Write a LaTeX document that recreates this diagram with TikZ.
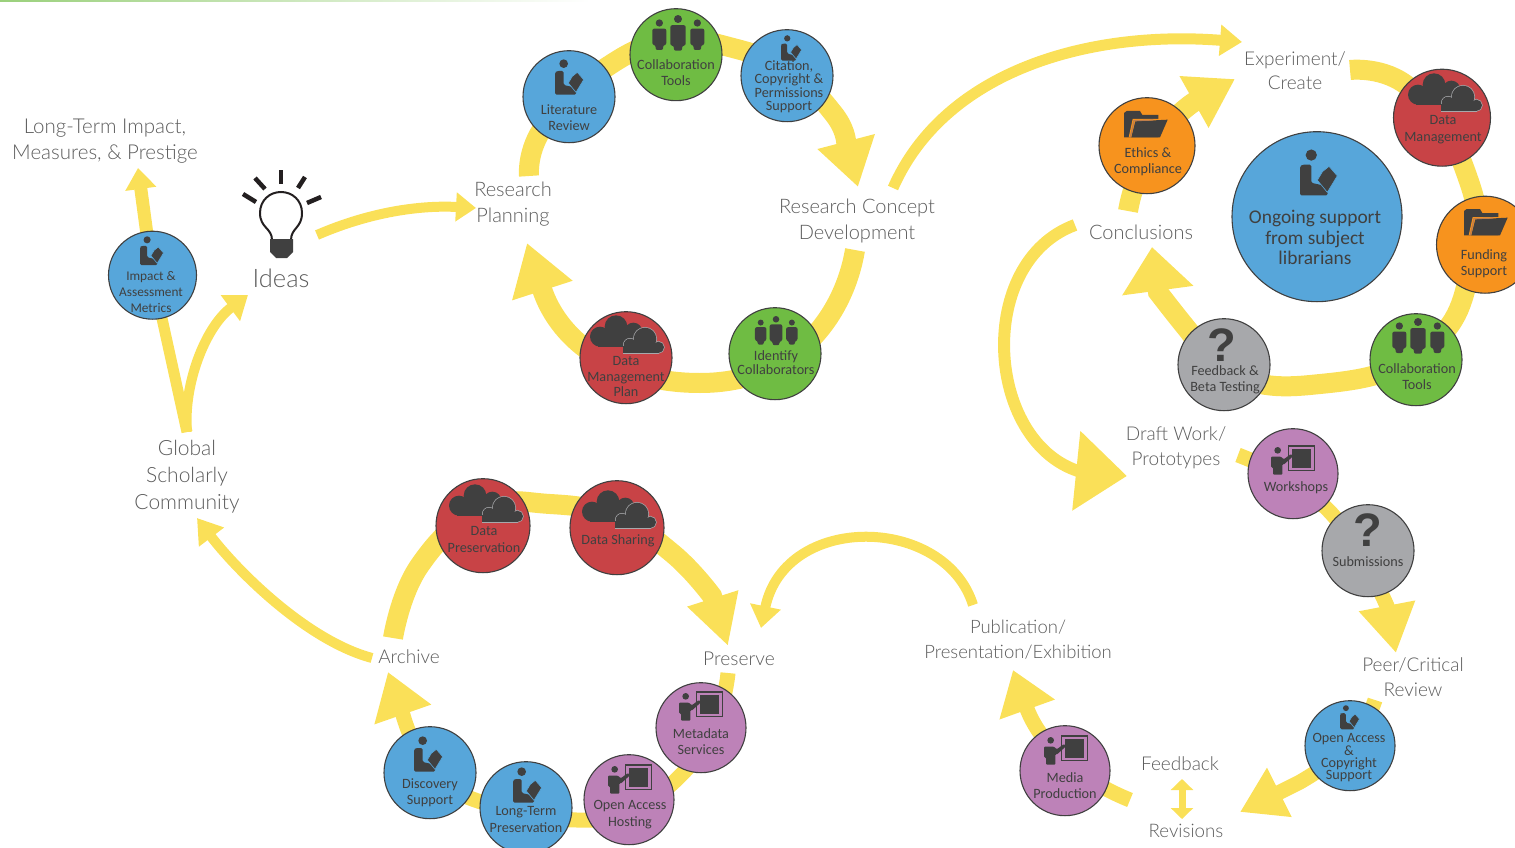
\documentclass[tikz,border=0pt]{standalone}
\usepackage{fontspec}
\setmainfont{Carlito}
\newfontfamily\lightfont{Lato Light}
\usetikzlibrary{arrows.meta}
\definecolor{yel}{HTML}{FAE058}
\definecolor{bl}{HTML}{57A6DA}
\definecolor{gr}{HTML}{6FBC43}
\definecolor{rd}{HTML}{C84346}
\definecolor{og}{HTML}{F7931E}
\definecolor{pu}{HTML}{BD82B8}
\definecolor{gy}{HTML}{A7A8AB}
\definecolor{ink}{HTML}{404040}
\definecolor{lab}{HTML}{5C5C5C}
\definecolor{bulbk}{HTML}{231F20}
\definecolor{tan}{HTML}{BE7D4B}
\pgfdeclarelayer{bg}
\pgfsetlayers{bg,main}
\newcommand{\lf}[2]{\lightfont\fontsize{#1}{#2}\selectfont}
\tikzset{
  bub/.style={circle,draw=ink,line width=1.1pt,minimum size=#1,inner sep=0pt,yshift=-.7pt},
  ctext/.style={text=ink,align=center,inner sep=0pt,yshift=-.6pt,font=\fontsize{14.2}{16.5}\selectfont},
  ltext/.style={text=lab,align=center,inner sep=0pt,font=\lf{20}{25.5}},
  plainband/.style={draw=yel,line width=#1},
  ytip/.style n args={3}{draw=yel,line width=#1,-{Triangle[length=#2,width=#3]}},
  sm/.style={smooth,tension=.8}
}
\newcommand{\reader}[3]{\begin{scope}[shift={(#1,#2)},scale=#3/3]
  \fill[ink] (26,14) circle (13);
  \fill[ink,rounded corners=1.5] (0,40) -- (6,36) -- (26,36) -- (26,78) -- (62,86) -- (64,107) -- (0,107) -- cycle;
  \fill[ink,draw=bl,line width=.6pt] (40,72) -- (52,52) -- (67,40) -- (86,62) -- (63,100) -- cycle;
\end{scope}}
\newcommand{\figureman}[4]{\fill[ink] (#1,#2) circle (#3*.26);
  \fill[ink,rounded corners=2] (#1-#3*.5,#2+#3*.4) -- (#1+#3*.5,#2+#3*.4) -- (#1+#3*.5,#4-15) -- (#1+#3*.27,#4-15) -- (#1+#3*.27,#4) -- (#1-#3*.27,#4) -- (#1-#3*.27,#4-15) -- (#1-#3*.5,#4-15) -- cycle;}
\newcommand{\people}[3]{\begin{scope}[shift={(#1,#2)},scale=#3/3]
  \figureman{0}{12}{46}{107}
  \figureman{-56}{24}{42}{105}
  \figureman{58}{24}{42}{105}
\end{scope}}
\newcommand{\folder}[3]{\begin{scope}[shift={(#1,#2)},scale=#3/3]
  \fill[ink] (0,6) -- (8,0) -- (48,0) -- (55,12) -- (103,12) -- (103,79) -- (0,79) -- cycle;
  \fill[og] (14,79) -- (26,24) -- (131,24) -- (108,79) -- cycle;
  \fill[ink] (22,79) -- (34,31) -- (131,26) -- (108,79) -- cycle;
  \draw[draw=tan,line width=1.2pt] (19,79) -- (30,29) -- (88,27);
\end{scope}}
\newcommand{\clouds}[3]{\begin{scope}[shift={(#1,#2)},scale=#3/3]
  \fill[ink] (30,65) circle (30);
  \fill[ink] (78,35) circle (34);
  \fill[ink] (130,50) circle (27);
  \fill[ink] (25,55) rectangle (150,95);
  \draw[gy,line width=1.4pt] (120,90) circle (19);
  \draw[gy,line width=1.4pt] (165,72) circle (34);
  \draw[gy,line width=1.4pt] (205,97) circle (17);
  \draw[gy,line width=1.4pt] (100,97) rectangle (205,114);
  \fill[ink] (120,90) circle (19);
  \fill[ink] (165,72) circle (34);
  \fill[ink] (205,97) circle (17);
  \fill[ink] (100,92) rectangle (205,114);
\end{scope}}
\newcommand{\presenter}[3]{\begin{scope}[shift={(#1,#2)},scale=#3/3]
  \fill[ink] (20,13) circle (10);
  \fill[ink,rounded corners=1] (0,32) -- (30,32) -- (38,40) -- (60,24) -- (66,31) -- (38,56) -- (34,54) -- (34,86) -- (6,86) -- (6,64) -- (0,64) -- cycle;
  \draw[ink,line width=1.1pt] (53,0) rectangle (130,73);
  \fill[ink] (63,8) rectangle (120,65);
\end{scope}}
\begin{document}
\begin{tikzpicture}[x=1pt,y=-1pt]
\useasboundingbox (0,0) rectangle (1515,848);
\clip (0,0) rectangle (1515,848);
\shade[left color=gr!70!white,right color=white,draw=none] (0,0) rectangle (590,2);
% ---- labels
\node[ltext,font=\lf{20.5}{26}] (ltip) at (105,141.5) {Long-Term Impact,\\Measures, \& Prestige};
\node[ltext,font=\lf{25.5}{28}] (ideas) at (281,278) {Ideas};
\node[ltext] (rplan) at (513,204) {Research\\Planning};
\node[ltext] (rcon) at (857,221) {Research Concept\\Development};
\node[ltext,font=\lf{19}{24.5}] (expt) at (1295,70.5) {Experiment/\\Create};
\node[ltext] (concl) at (1141,232) {Conclusions};
\node[ltext,font=\lf{19}{25}] (draft) at (1176,448) {Draft Work/\\Prototypes};
\node[ltext,font=\lf{19}{25}] (peer) at (1413,677) {Peer/Critical\\Review};
\node[ltext,font=\lf{19}{25}] (fback) at (1180,763.5) {Feedback};
\node[ltext,font=\lf{18.7}{25}] (revis) at (1186,830.5) {Revisions};
\node[ltext,font=\lf{18.5}{25}] (publ) at (1018,639.5) {Publication/\\Presentation/Exhibition};
\node[ltext,font=\lf{19.2}{25}] (pres) at (739,658.5) {Preserve};
\node[ltext,font=\lf{19}{25}] (arch) at (409,656.5) {Archive};
\node[ltext,font=\lf{21}{27}] (glob) at (187,477) {Global\\Scholarly\\Community};
% ---- circles
\node[bub=88pt,fill=bl] (impact) at (152.5,274.5) {};
\node[bub=92pt,fill=bl] (lit) at (569,96) {};
\node[bub=92pt,fill=gr] (coll) at (676,54) {};
\node[bub=92pt,fill=bl] (cite) at (787,75) {};
\node[bub=92pt,fill=rd] (dmp) at (626,357) {};
\node[bub=92pt,fill=gr] (ident) at (775,353) {};
\node[bub=96pt,fill=og] (ethics) at (1147,145) {};
\node[bub=97pt,fill=rd] (dm) at (1442,117) {};
\node[bub=170pt,fill=bl] (ongo) at (1317,216) {};
\node[bub=97pt,fill=og] (fund) at (1485,244) {};
\node[bub=92pt,fill=gr] (coll2) at (1416,359) {};
\node[bub=92pt,fill=gy] (beta) at (1224,364) {};
\node[bub=90pt,fill=pu] (work) at (1293,473) {};
\node[bub=92pt,fill=gy] (subm) at (1368,550) {};
\node[bub=90pt,fill=bl] (oacc) at (1350,745) {};
\node[bub=90pt,fill=pu] (media) at (1065,770) {};
\node[bub=90pt,fill=pu] (meta) at (701,727) {};
\node[bub=90pt,fill=pu] (host) at (629,799) {};
\node[bub=92pt,fill=bl] (ltp) at (526,807) {};
\node[bub=92pt,fill=bl] (disc) at (430,772) {};
\node[bub=94pt,fill=rd] (dpres) at (483,525) {};
\node[bub=94pt,fill=rd] (dshare) at (617,527) {};
% ---- icons
\reader{140}{236}{.82}
\reader{555}{59}{1}
\reader{781}{35}{.72}
\reader{1300}{149}{1.3}
\reader{414}{736}{1}
\reader{513}{767}{1}
\reader{1340}{705}{.68}
\people{678}{15}{1}
\people{776}{316}{.82}
\people{1418}{318}{1}
\folder{1124}{111}{1}
\folder{1464}{209}{1}
\clouds{1408}{73}{1}
\clouds{449}{484}{1}
\clouds{582}{490}{1}
\clouds{590}{315}{1}
\presenter{1271}{446}{1}
\presenter{679}{692}{1}
\presenter{608}{765}{1}
\presenter{1044}{736}{1}
% ---- question marks
\node[text=ink,inner sep=0pt,font=\fontspec{Liberation Sans Bold}\fontsize{47}{47}\selectfont] (q1) at (1222,345) {?};
\node[text=ink,inner sep=0pt,font=\fontspec{Liberation Sans Bold}\fontsize{47}{47}\selectfont] (q2) at (1368,530) {?};
% ---- bulb
\foreach \a/\b/\c/\d in {281/170/281/184,255/178/265/189,305/177/298/188,243/194/256/202,321/197/307/203}
  \draw[line width=4.5pt,draw=bulbk] (\a,\b) -- (\c,\d);
\draw[line width=2pt,draw=bulbk] (272,240) .. controls (272,228) and (260,228) .. (260,213) .. controls (260,200) and (270,192) .. (281,192) .. controls (292,192) and (302,200) .. (302,213) .. controls (302,228) and (291,228) .. (291,240) -- cycle;
\fill[ink] (270,239) -- (293,239) -- (293,252) -- (287,258) -- (276,258) -- (270,252) -- cycle;
% ---- circle texts
\node[ctext,font=\fontsize{13.3}{16}\selectfont] (tImpact) at (151,291) {Impact \&\\Assessment\\Metrics};
\node[ctext] (tLit) at (569,117) {Literature\\Review};
\node[ctext] (tColl) at (676,72) {Collaboration\\Tools};
\node[ctext,font=\fontsize{14.2}{13.3}\selectfont] (tCite) at (789,86) {Citation,\\Copyright \&\\Permissions\\Support};
\node[ctext,font=\fontsize{14.2}{15.5}\selectfont] (tDmp) at (626,376) {Data\\Management\\Plan};
\node[ctext,font=\fontsize{14.2}{13.5}\selectfont] (tIdent) at (776,362) {Identify\\Collaborators};
\node[ctext] (tEth) at (1148,161) {Ethics \&\\Compliance};
\node[ctext] (tDm) at (1443,129) {Data\\Management};
\node[ctext,font=\fontsize{19.4}{20.5}\selectfont] (tOngo) at (1315,237) {Ongoing support\\from subject\\librarians};
\node[ctext] (tFund) at (1484,263) {Funding\\Support};
\node[ctext] (tColl2) at (1417,376) {Collaboration\\Tools};
\node[ctext] (tBeta) at (1225,379) {Feedback \&\\Beta Testing};
\node[ctext] (tWork) at (1296,487) {Workshops};
\node[ctext] (tSubm) at (1368,561) {Submissions};
\node[ctext,font=\fontsize{14.2}{11.7}\selectfont] (tOacc) at (1349,757) {Open Access\\\&\\Copyright\\Support};
\node[ctext] (tMedia) at (1065,785) {Media\\Production};
\node[ctext] (tMeta) at (701,741) {Metadata\\Services};
\node[ctext] (tHost) at (630,814) {Open Access\\Hosting};
\node[ctext] (tLtp) at (526,819) {Long-Term\\Preservation};
\node[ctext] (tDisc) at (430,792) {Discovery\\Support};
\node[ctext] (tDpres) at (484,539) {Data\\Preservation};
\node[ctext] (tDshare) at (618,540) {Data Sharing};
% ---- connector ends
\coordinate (rpTop) at (529,176);
\coordinate (rcTop) at (858,187);
\coordinate (rcBot) at (855,250);
\coordinate (rpBot) at (527,243);
\coordinate (rcExp) at (893,188);
\coordinate (expIn) at (1242,42);
\coordinate (ideaOut) at (317,235);
\coordinate (rpIn) at (476,208);
\coordinate (globTop) at (187,432);
\coordinate (ltipIn) at (138,168);
\coordinate (ideaIn) at (248,295);
\coordinate (archOut) at (372,658);
\coordinate (globIn) at (197,518);
\coordinate (archTop) at (393,638);
\coordinate (presIn) at (728,646);
\coordinate (presBot) at (728,673);
\coordinate (archIn) at (388,672);
\coordinate (pubOut) at (973,605);
\coordinate (presIn2) at (761,628);
\coordinate (revOut) at (1130,800);
\coordinate (pubIn) at (1013,670);
\coordinate (fbIn) at (1182,779);
\coordinate (revIn) at (1182,819);
\coordinate (peerOut) at (1375,700);
\coordinate (fbIn2) at (1240,812);
\coordinate (draftOut) at (1238,455);
\coordinate (peerIn) at (1396,653);
\coordinate (conclOut) at (1075,225);
\coordinate (draftIn) at (1127,476);
\coordinate (conclUp) at (1128,211);
\coordinate (expIn2) at (1235,79);
\coordinate (expOut) at (1350,70);
\coordinate (conclIn) at (1152,247);
% ---- connectors
\begin{pgfonlayer}{bg}
\draw[ytip={20pt}{47pt}{56pt}] plot[sm] coordinates {(rpTop) (545,125) (613,63) (675,42) (733,48) (790,72) (833,113) (846,141)} -- (rcTop);
\draw[ytip={20pt}{50pt}{60pt}] (rcBot) .. controls (845,310) and (800,383) .. (700,383) .. controls (620,383) and (560,345) .. (rpBot);
\draw[ytip={11pt}{22pt}{30pt}] (rcExp) .. controls (945,70) and (1090,30) .. (expIn);
\draw[ytip={10pt}{20pt}{28pt}] (ideaOut) .. controls (370,212) and (420,205) .. (rpIn);
\draw[plainband=11pt] (globTop) -- (impact.center);
\draw[ytip={13pt}{21pt}{30pt}] (impact.center) -- (ltipIn);
\draw[ytip={10pt}{22pt}{31pt}] (globTop) .. controls (183,385) and (205,327) .. (ideaIn);
\draw[ytip={10pt}{24pt}{30pt}] (archOut) .. controls (305,640) and (235,568) .. (globIn);
\draw[ytip={20pt}{50pt}{50pt}] plot[sm] coordinates {(archTop) (420,565) (483,510) (550,504) (617,518) (672,553) (712,596)} -- (presIn);
\draw[ytip={15pt}{45pt}{57pt}] plot[sm] coordinates {(presBot) (716,720) (683,773) (629,810) (577,820) (500,808) (435,775) (403,715)} -- (archIn);
\draw[ytip={10pt}{22pt}{30pt}] (pubOut) .. controls (945,515) and (785,512) .. (presIn2);
\draw[ytip={15pt}{42pt}{56pt}] (revOut) .. controls (1080,780) and (1040,745) .. (pubIn);
\draw[draw=yel,line width=7pt,{Triangle[length=11pt,width=22pt]}-{Triangle[length=11pt,width=22pt]}] (fbIn) -- (revIn);
\draw[ytip={15pt}{44pt}{52pt}] plot[sm] coordinates {(peerOut) (1350,745) (1300,782)} -- (fbIn2);
\draw[ytip={15pt}{48pt}{54pt}] plot[sm] coordinates {(draftOut) (1293,483) (1345,530) (1387,606)} -- (peerIn);
\draw[ytip={12pt}{51pt}{77pt}] (conclOut) .. controls (975,262) and (985,440) .. (1078,471) -- (draftIn);
\draw[ytip={20pt}{47pt}{56pt}] (conclUp) .. controls (1135,170) and (1160,125) .. (1194,102) -- (expIn2);
\draw[ytip={20pt}{44pt}{69pt}] plot[sm] coordinates {(expOut) (1410,88) (1465,170) (1472,260) (1425,350) (1310,385) (1222,370) (1188,330) (1158,292)} -- (conclIn);
\end{pgfonlayer}
\end{tikzpicture}
\end{document}
